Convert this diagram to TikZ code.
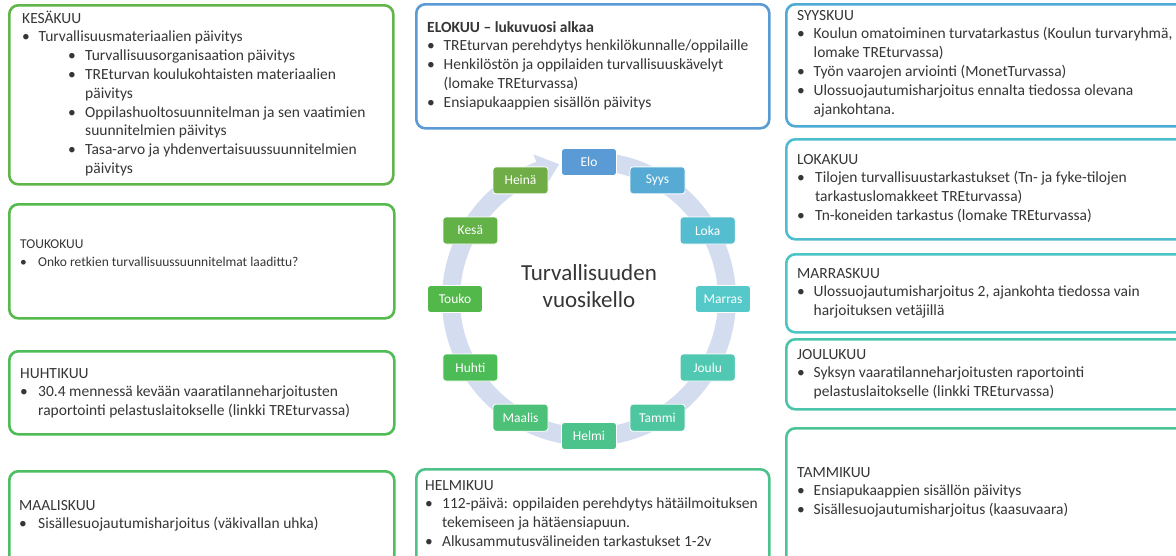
\documentclass[tikz,border=0pt]{standalone}
\usepackage{fontspec}
\setmainfont{Carlito}
\usetikzlibrary{calc}
\definecolor{textc}{HTML}{363636}
\definecolor{ringc}{HTML}{D3DDEF}
\definecolor{cKes}{HTML}{62B548}
\definecolor{cTou}{HTML}{56BA4C}
\definecolor{cHuh}{HTML}{4FBC55}
\definecolor{cMaa}{HTML}{4DBE62}
\definecolor{cElo}{HTML}{5B9BD5}
\definecolor{cHel}{HTML}{4DC38A}
\definecolor{cSyy}{HTML}{4FA9D5}
\definecolor{cLok}{HTML}{4EBDD0}
\definecolor{cMar}{HTML}{4CC6C4}
\definecolor{cJou}{HTML}{4BC5AA}
\definecolor{cTam}{HTML}{4CC497}
\definecolor{tElo}{HTML}{5B9BD5}
\definecolor{tSyy}{HTML}{56AAD4}
\definecolor{tLok}{HTML}{55BDD0}
\definecolor{tMar}{HTML}{55C9C9}
\definecolor{tJou}{HTML}{50C8B2}
\definecolor{tTam}{HTML}{4EC69F}
\definecolor{tHel}{HTML}{4CC38B}
\definecolor{tMaa}{HTML}{4DC177}
\definecolor{tHuh}{HTML}{4CBC57}
\definecolor{tTou}{HTML}{52B84A}
\definecolor{tKes}{HTML}{62B248}
\definecolor{tHei}{HTML}{70AD47}
\newcommand\bodyfont{\fontsize{15.5}{18.8}\selectfont}
\newcommand\smallbody{\fontsize{13.5}{18}\selectfont}
\newcommand\tilefont{\fontsize{13.5}{16}\selectfont}
\newcommand\bigtitlefont{\fontsize{23}{27}\selectfont}
\newcommand\bA{\makebox[16.5pt][l]{•}}
\newcommand\cA{\hspace*{16.5pt}}
\newcommand\bB{\hspace*{46pt}\makebox[17pt][l]{•}}
\newcommand\cB{\hspace*{63pt}}
\newcommand\mtext[1]{\begin{minipage}[t]{420pt}\setlength\parindent{0pt}\raggedright #1\end{minipage}}
\tikzset{
  mbox/.style={draw, line width=2.6pt, rounded corners=9pt, anchor=north west, inner sep=0pt, fill=white},
  txt/.style={anchor=base west, inner sep=0pt, text=textc, font=\bodyfont},
  tile/.style={rounded corners=3pt, draw=white, line width=0.8pt, minimum width=55pt, minimum height=27pt, text=white, font=\tilefont, inner sep=0pt},
}
\begin{document}
\begin{tikzpicture}[x=1pt,y=-1pt]
\useasboundingbox (0,0) rectangle (1176,555);
\clip (0,0) rectangle (1176,555);
\fill[white] (0,0) rectangle (1176,555);

% ---------- left column ----------
\node[mbox, draw=cKes, minimum width=384pt, minimum height=179pt] (kes) at (8,4) {};
\node[txt] (kest) at (22,23) {\mtext{KESÄKUU\\
\bA Turvallisuusmateriaalien päivitys\\
\bB Turvallisuusorganisaation päivitys\\
\bB TREturvan koulukohtaisten materiaalien\\
\cB päivitys\\
\bB Oppilashuoltosuunnitelman ja sen vaatimien\\
\cB suunnitelmien päivitys\\
\bB Tasa-arvo ja yhdenvertaisuussuunnitelmien\\
\cB päivitys}};

\node[mbox, draw=cTou, minimum width=385pt, minimum height=114pt] (tou) at (8,203) {};
\node[txt, font=\smallbody] (tout) at (20,248) {\mtext{TOUKOKUU\\
\makebox[18pt][l]{•}Onko retkien turvallisuussuunnitelmat laadittu?}};

\node[mbox, draw=cHuh, minimum width=385pt, minimum height=83pt] (huh) at (8,350) {};
\node[txt] (huht) at (20,378) {\mtext{HUHTIKUU\\
\makebox[18pt][l]{•}30.4 mennessä kevään vaaratilanneharjoitusten\\
\hspace*{18pt}raportointi pelastuslaitokselle (linkki TREturvassa)}};

\node[mbox, draw=cMaa, minimum width=385pt, minimum height=100pt] (maa) at (8,470) {};
\node[txt] (maat) at (19,510) {\mtext{MAALISKUU\\
\makebox[19pt][l]{•}Sisällesuojautumisharjoitus (väkivallan uhka)}};

% ---------- middle column ----------
\node[mbox, draw=cElo, minimum width=353pt, minimum height=124pt] (elo) at (415,3) {};
\node[txt] (elot) at (427,32) {\mtext{\textbf{ELOKUU – lukuvuosi alkaa}\\
\bA TREturvan perehdytys henkilökunnalle/oppilaille\\
\bA Henkilöstön ja oppilaiden turvallisuuskävelyt\\
\cA (lomake TREturvassa)\\
\bA Ensiapukaappien sisällön päivitys}};

\node[mbox, draw=cHel, minimum width=353pt, minimum height=100pt] (hel) at (415,468) {};
\node[txt] (helt) at (425,490) {\mtext{HELMIKUU\\
\makebox[17pt][l]{•}112-päivä: oppilaiden perehdytys hätäilmoituksen\\
\hspace*{17pt}tekemiseen ja hätäensiapuun.\\
\makebox[17pt][l]{•}Alkusammutusvälineiden tarkastukset 1-2v}};

% ---------- right column ----------
\node[mbox, draw=cSyy, minimum width=405pt, minimum height=122pt] (syy) at (785,3) {};
\node[txt] (syyt) at (797,20) {\mtext{SYYSKUU\\
\bA Koulun omatoiminen turvatarkastus (Koulun turvaryhmä,\\
\cA lomake TREturvassa)\\
\bA Työn vaarojen arviointi (MonetTurvassa)\\
\bA Ulossuojautumisharjoitus ennalta tiedossa olevana\\
\cA ajankohtana.}};

\node[mbox, draw=cLok, minimum width=405pt, minimum height=100pt] (lok) at (785,138) {};
\node[txt] (lokt) at (797,164) {\mtext{LOKAKUU\\
\makebox[18pt][l]{•}Tilojen turvallisuustarkastukset (Tn- ja fyke-tilojen\\
\hspace*{18pt}tarkastuslomakkeet TREturvassa)\\
\makebox[18pt][l]{•}Tn-koneiden tarkastus (lomake TREturvassa)}};

\node[mbox, draw=cMar, minimum width=405pt, minimum height=78pt] (mar) at (785,253) {};
\node[txt] (mart) at (797,278) {\mtext{MARRASKUU\\
\bA Ulossuojautumisharjoitus 2, ajankohta tiedossa vain\\
\cA harjoituksen vetäjillä}};

\node[mbox, draw=cJou, minimum width=405pt, minimum height=70pt] (jou) at (785,338) {};
\node[txt] (jout) at (797,359) {\mtext{JOULUKUU\\
\bA Syksyn vaaratilanneharjoitusten raportointi\\
\cA pelastuslaitokselle (linkki TREturvassa)}};

\node[mbox, draw=cTam, minimum width=405pt, minimum height=140pt] (tam) at (785,427) {};
\node[txt] (tamt) at (797,477) {\mtext{TAMMIKUU\\
\bA Ensiapukaappien sisällön päivitys\\
\bA Sisällesuojautumisharjoitus (kaasuvaara)}};

% ---------- cycle ----------
\coordinate (c) at (589,299);
\fill[ringc] ($(c)+(-86:147)$) arc[start angle=-86, end angle=249, radius=147]
  -- ($(c)+(249:155)$) -- ($(c)+(257.5:138)$) -- ($(c)+(249:121)$)
  -- ($(c)+(249:129)$) arc[start angle=249, end angle=-86, radius=129] -- cycle;

\node[text=textc, font=\bigtitlefont, align=center] (title) at (589,286) {Turvallisuuden\\vuosikello};

\node[tile, fill=tElo] (tElo) at ($(c)+(-90:137)$) {Elo};
\node[tile, fill=tSyy] (tSyy) at ($(c)+(-60:137)$) {Syys};
\node[tile, fill=tLok] (tLok) at ($(c)+(-30:137)$) {Loka};
\node[tile, fill=tMar] (tMar) at ($(c)+(0:134)$) {Marras};
\node[tile, fill=tJou] (tJou) at ($(c)+(30:137)$) {Joulu};
\node[tile, fill=tTam] (tTam) at ($(c)+(60:137)$) {Tammi};
\node[tile, fill=tHel] (tHel) at ($(c)+(90:137)$) {Helmi};
\node[tile, fill=tMaa] (tMaa) at ($(c)+(120:137)$) {Maalis};
\node[tile, fill=tHuh] (tHuh) at ($(c)+(150:137)$) {Huhti};
\node[tile, fill=tTou] (tTou) at ($(c)+(180:134)$) {Touko};
\node[tile, fill=tKes] (tKes) at ($(c)+(210:137)$) {Kesä};
\node[tile, fill=tHei] (tHei) at ($(c)+(240:137)$) {Heinä};
\end{tikzpicture}
\end{document}
